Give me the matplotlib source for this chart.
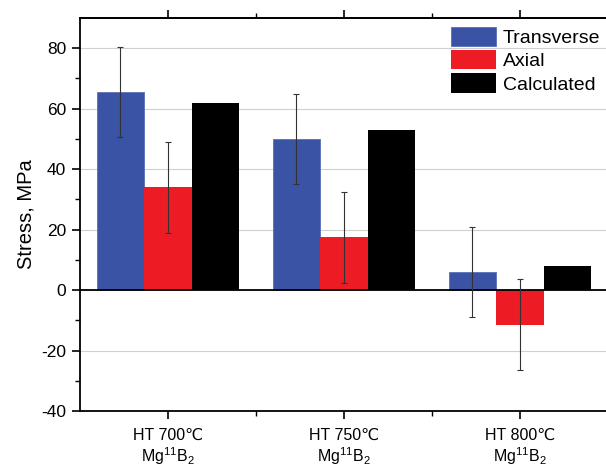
import numpy as np
import matplotlib
matplotlib.use('Agg')
import matplotlib.pyplot as plt

plt.rcParams['font.family'] = ['Liberation Sans', 'DejaVu Sans']
plt.rcParams['mathtext.fontset'] = 'custom'
plt.rcParams['mathtext.rm'] = 'Liberation Sans'
plt.rcParams['mathtext.default'] = 'regular'
plt.rcParams['axes.unicode_minus'] = False

# data
categories = ['HT 700\u2103\nMg$^{11}$B$_2$', 'HT 750\u2103\nMg$^{11}$B$_2$', 'HT 800\u2103\nMg$^{11}$B$_2$']
transverse = [65.5, 50.0, 6.0]
axial = [34.0, 17.5, -11.5]
calculated = [62.0, 53.0, 8.0]
transverse_err = [15, 15, 15]
axial_err = [15, 15, 15]

blue = '#3A53A4'
red = '#ED1C24'

fig = plt.figure(figsize=(6.06, 4.67), dpi=100)
ax = fig.add_axes([80/606, 1 - 411/467, 528/606, 393/467])

x = np.arange(1, len(categories) + 1)
w = 0.27

ax.bar(x - w, transverse, w, color=blue, edgecolor='#5a70b8', linewidth=0.6, label='Transverse', zorder=2)
ax.bar(x, axial, w, color=red, label='Axial', zorder=2)
ax.bar(x + w, calculated, w, color='black', label='Calculated', zorder=2)

ax.errorbar(x - w, transverse, yerr=transverse_err, fmt='none', ecolor='#333333',
            elinewidth=0.8, capsize=2.5, capthick=0.8, zorder=3)
ax.errorbar(x, axial, yerr=axial_err, fmt='none', ecolor='#333333',
            elinewidth=0.8, capsize=2.5, capthick=0.8, zorder=3)

ax.axhline(0, color='black', linewidth=1.3, zorder=2.5)

ax.set_xlim(0.5, 3.5)
ax.set_ylim(-40, 90)
ax.set_yticks([-40, -20, 0, 20, 40, 60, 80])
ax.set_yticks([-30, -10, 10, 30, 50, 70], minor=True)
ax.set_xticks(x)
ax.set_xticklabels(categories, fontsize=11.5, linespacing=1.15)
ax.set_xticks([1.5, 2.5, 3.5], minor=True)
ax.tick_params(axis='y', labelsize=12.5, length=6, width=1.2, direction='out', pad=4)
ax.tick_params(axis='y', which='minor', length=3.5, width=1.0)
ax.tick_params(axis='x', length=6, width=1.2, direction='out', pad=6)
ax.tick_params(axis='x', which='minor', length=3.5, width=1.0)

ax.yaxis.grid(True, color='#d0d0d0', linewidth=0.8, zorder=0)
ax.set_axisbelow(True)

for s in ['left', 'bottom', 'top']:
    ax.spines[s].set_linewidth(1.3)
ax.spines['right'].set_visible(False)

# ticks along the top frame
top = ax.secondary_xaxis('top')
top.set_xticks(x)
top.set_xticks([1.5, 2.5, 3.5], minor=True)
top.set_xticklabels([])
top.tick_params(length=6, width=1.2, direction='out')
top.tick_params(which='minor', length=3.5, width=1.0)
top.spines['top'].set_linewidth(1.3)

ax.set_ylabel('Stress, MPa', fontsize=14.5, labelpad=4)

ax.legend(loc='upper left', bbox_to_anchor=(451/606, 1 - 27/467), bbox_transform=fig.transFigure,
          frameon=False, fontsize=14, handlelength=2.3, handleheight=1.15,
          handletextpad=0.35, labelspacing=0.15, borderpad=0, borderaxespad=0)

plt.savefig('out.png', dpi=100)
